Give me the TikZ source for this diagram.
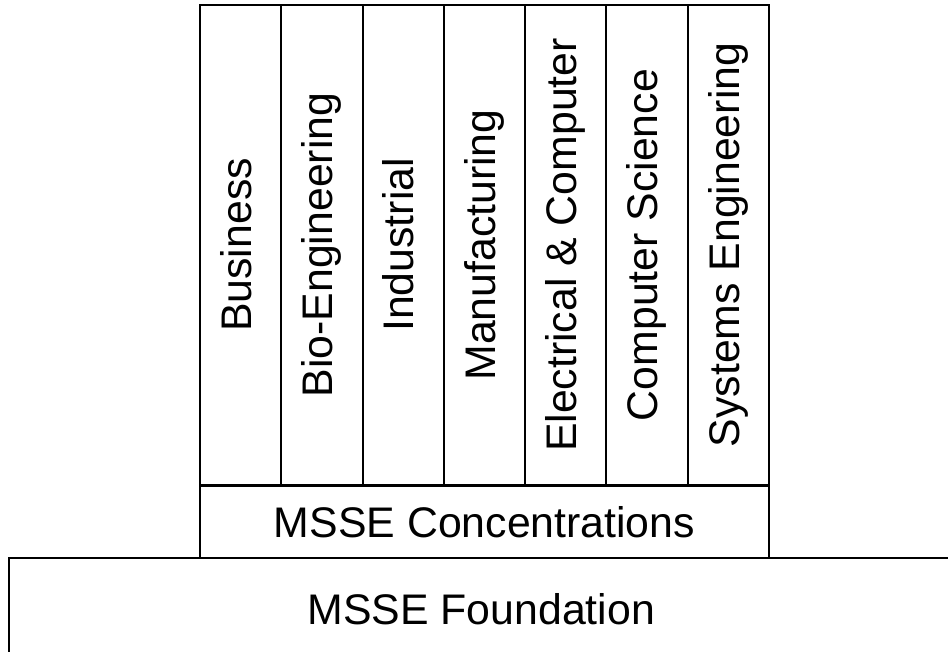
\documentclass[tikz,border=0pt]{standalone}
\usepackage{fontspec}
\setmainfont{Liberation Sans}
\begin{document}
\begin{tikzpicture}[x=1pt,y=-1pt,line width=2pt,
  bigfont/.style={font=\fontsize{42.8}{50}\selectfont},
  colbox/.style={draw,rectangle,inner sep=0pt,bigfont,rotate=90,
    minimum width=480pt,minimum height=81.29pt,text height=30.5pt,text depth=9pt},
  layerbox/.style={draw,rectangle,inner sep=0pt,bigfont}]
\useasboundingbox (0,0) rectangle (948,652);
\clip (0,0) rectangle (948,652);
\foreach \t [count=\i from 0] in {Business,Bio-Engineering,Industrial,Manufacturing,Electrical \& Computer,Computer Science,Systems Engineering}
  \node[colbox] (col\i) at ({200+81.29*(\i+0.5)},245) {\t};
\node[layerbox,minimum width=569pt,minimum height=71.5pt] (conc) at (484.5,521.75) {MSSE Concentrations};
\node[layerbox,minimum width=945.5pt,minimum height=103pt] (found) at (481.25,609) {MSSE Foundation};
\end{tikzpicture}
\end{document}
